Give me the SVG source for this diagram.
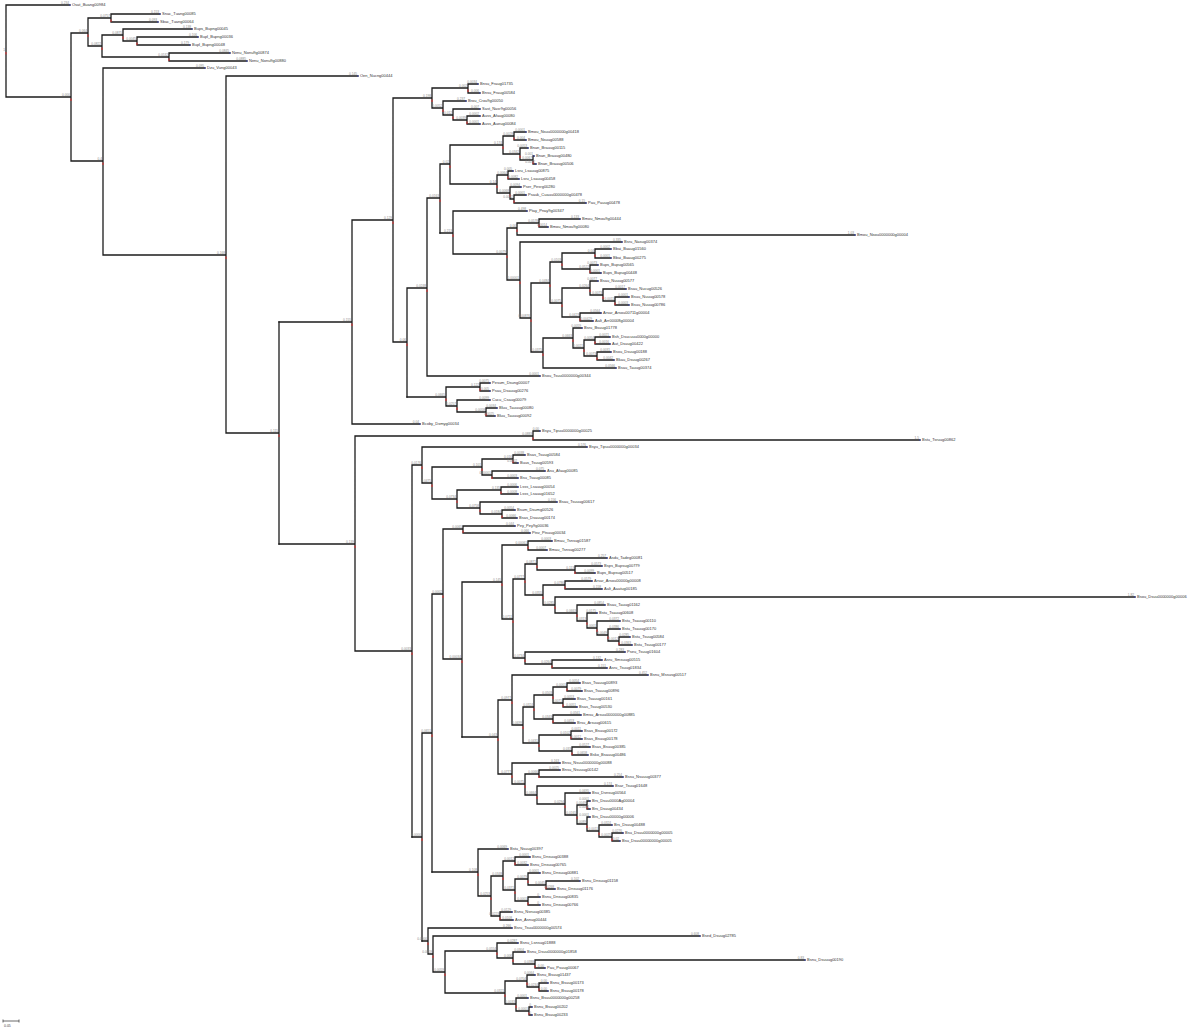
<svg xmlns="http://www.w3.org/2000/svg" width="1200" height="1032" viewBox="0 0 1200 1032">
<style>
.lf text{font-family:"Liberation Sans",Arial,sans-serif;font-size:4px;fill:#333}
.lf circle{fill:#3344cc;r:0.7px}
text.b{font-size:3.2px;fill:#888;text-anchor:end}
.in text{font-family:"Liberation Sans",Arial,sans-serif;font-size:3.2px;fill:#888;text-anchor:end}
.in rect{fill:#e03030}
</style>
<rect width="1200" height="1032" fill="#fff"/>
<g id="connectors" fill="none" stroke="#1c1c1c" stroke-width="1.3" stroke-linecap="square">
<path d="M6 5V97M6 5H70M6 97H71M71 33V161M71 33H88M88 18V46M88 18H111M111 14V22M111 14H160M111 22H158M88 46H102M102 35V57M102 35H123M123 29V41M123 29H192M123 41H137M137 37V45M137 37H198M137 45H190M102 57H169M169 53V61M169 53H230M169 61H247M71 161H103M103 68V255M103 68H205M103 255H226M226 76V433M226 76H358M226 433H279M279 322V544"/>
<path d="M279 322H352M352 220V424M352 424H420M352 220H393M393 98V342M393 98H432M432 88V108M432 88H468M468 84V93M468 84H478M468 93H480M432 108H443M443 101V115M443 101H466M443 115H453M453 109V120M453 109H480M453 120H467M467 116V124M467 116H480M467 124H480M393 342H407M407 288V397M407 288H427M427 198V376M427 376H540M427 198H440M440 164V233M440 164H450M450 145V184M450 145H503M503 136V154M503 136H514M514 132V140M514 132H526M514 140H526M503 154H520M520 148V160M520 148H528M520 160H533M533 156V164M533 156H534M533 164H536M450 184H497M497 175V193M497 175H508M508 171V179M508 171H513M508 179H519M497 193H510M510 187V199M510 187H521M510 199H514M514 195V203M514 195H526M514 203H586"/>
<path d="M440 233H453M453 211V254M453 211H527M453 254H507M507 228V280M507 228H517M517 223V235M517 235H855M517 223H539M539 219V227M539 219H580M539 227H548M507 280H520M520 242V318M520 242H622M520 318H531M531 283V352M531 283H550M550 262V303M550 262H562M562 253V269M562 253H595M595 249V258M595 249H611M595 258H611M562 269H590M590 265V273M590 265H598M590 273H601M550 303H562M562 288V317M562 288H590M590 281V295M590 281H598M590 295H603M603 289V301M603 289H626M603 301H615M615 297V305M615 297H629M615 305H629M562 317H580M580 313V321M580 313H601M580 321H593M531 352H543M543 338V368M543 368H616M543 338H573M573 328V348M573 328H582M573 348H584M584 340V356M584 340H595M595 337V344M595 337H610M595 344H610M584 356H597M597 352V360M597 352H611M597 360H614M407 397H446M446 387V406M446 387H480M480 383V391M480 383H490M480 391H490M446 406H457M457 400V412M457 400H490M457 412H486M486 408V416M486 408H497M486 416H495"/>
<path d="M279 544H355M355 436V651M355 436H533M533 431V440M533 431H540M533 440H920M355 651H412M412 465V837M412 465H422M422 447V483M422 447H587M422 483H432M432 467V499M432 467H482M482 459V475M482 459H513M513 455V463M513 455H525M513 463H518M482 475H492M492 471V478M492 471H545M492 478H518M432 499H457M457 490V508M457 490H501M501 487V494M501 487H518M501 494H518M457 508H480M480 502V514M480 502H557M480 514H502M502 510V518M502 510H515M502 518H517"/>
<path d="M412 837H422M422 733V941M422 733H432M432 594V872M432 594H443M443 529V659M443 529H463M463 526V533M463 526H515M463 533H530M443 659H462M462 582V737M462 582H502M502 545V619M502 545H528M528 541V550M528 541H552M528 550H547M502 619H513M513 579V658M513 579H525M525 564V595M525 564H537M537 558V570M537 558H607M537 570H575M575 566V573M575 566H602M575 573H595M525 595H543M543 585V605M543 585H565M565 581V589M565 581H592M565 589H602M543 605H555M555 597V613M555 597H1135M555 613H577M577 605V621M577 605H605M577 621H587M587 613V628M587 613H597M587 628H597M597 621V635M597 621H620M597 635H608M608 629V641M608 629H620M608 641H619M619 637V645M619 637H630M619 645H632M513 658H525M525 652V664M525 652H625M525 664H552M552 660V668M552 660H602M552 668H607"/>
<path d="M462 737H498M498 700V774M498 700H512M512 675V725M512 675H648M512 725H523M523 707V743M523 707H534M534 695V719M534 695H553M553 687V703M553 687H567M567 683V691M567 683H580M567 691H582M553 703H563M563 699V707M563 699H575M563 707H577M534 719H553M553 715V723M553 715H581M553 723H575M523 743H539M539 735V751M539 735H571M571 731V739M571 731H582M571 739H582M539 751H572M572 747V755M572 747H590M572 755H588M498 774H512M512 763V784M512 763H560M512 784H525M525 774V795M525 774H539M539 770V777M539 770H560M539 777H623M525 795H537M537 786V804M537 786H613M537 804H565M565 793V815M565 793H590M565 815H577M577 805V824M577 805H587M587 801V809M587 801H590M587 809H590M577 824H587M587 817V831M587 817H590M587 831H599M599 825V837M599 825H612M599 837H612M612 833V841M612 833H623M612 841H620"/>
<path d="M432 872H478M478 849V896M478 849H508M478 896H491M491 876V916M491 876H503M503 861V890M503 861H515M515 857V865M515 857H530M515 865H528M503 890H515M515 879V901M515 879H528M528 873V885M528 873H540M528 885H546M546 881V889M546 881H580M546 889H555M515 901H528M528 897V905M528 897H540M528 905H540M491 916H500M500 912V920M500 912H512M500 920H513M422 941H428M428 928V954M428 928H512M428 954H433M433 936V972M433 936H700M433 972H445M445 951V993M445 951H497M497 943V958M497 943H518M497 958H513M513 952V964M513 952H525M513 964H535M535 960V968M535 960H805M535 968H545M445 993H505M505 981V1004M505 981H527M527 975V987M527 975H535M527 987H539M539 983V991M539 983H548M539 991H548M505 1004H516M516 998V1011M516 998H528M516 1011H529M529 1007V1015M529 1007H532M529 1015H532"/>
</g>
<g class="in">
<g id="nR"><rect x="5.5" y="52" width="1" height="2.5"/><text x="5" y="51">1</text></g>
<g id="n71"><rect x="70.5" y="98.5" width="1" height="2.5"/><text x="70" y="96">0.000</text></g>
<g id="n88"><rect x="87.5" y="34.5" width="1" height="2.5"/><text x="87" y="32">0.064</text></g>
<g id="n111"><rect x="110.5" y="19.5" width="1" height="2.5"/><text x="110" y="17">0.0757</text></g>
<g id="n102"><rect x="101.5" y="47.5" width="1" height="2.5"/><text x="101" y="45">0.0822</text></g>
<g id="n123"><rect x="122.5" y="36.5" width="1" height="2.5"/><text x="122" y="34">0.0875</text></g>
<g id="n137"><rect x="136.5" y="42.5" width="1" height="2.5"/><text x="136" y="40">0.0045</text></g>
<g id="n169"><rect x="168.5" y="58.5" width="1" height="2.5"/><text x="168" y="56">0.0532</text></g>
<g id="n103"><rect x="102.5" y="162.5" width="1" height="2.5"/><text x="102" y="160">0.4</text></g>
<g id="n226"><rect x="225.5" y="256.5" width="1" height="2.5"/><text x="225" y="254">0.168</text></g>
<g id="n279"><rect x="278.5" y="434.5" width="1" height="2.5"/><text x="278" y="432">0.115</text></g>
<g id="n352"><rect x="351.5" y="323.5" width="1" height="2.5"/><text x="351" y="321">0.155</text></g>
<g id="n393"><rect x="392.5" y="221.5" width="1" height="2.5"/><text x="392" y="219">0.129</text></g>
<g id="n432"><rect x="431.5" y="99.5" width="1" height="2.5"/><text x="431" y="97">0.198</text></g>
<g id="n468"><rect x="467.5" y="89.5" width="1" height="2.5"/><text x="467" y="87">0.002</text></g>
<g id="n443"><rect x="442.5" y="109.5" width="1" height="2.5"/><text x="442" y="107">0.0052</text></g>
<g id="n453"><rect x="452.5" y="116.5" width="1" height="2.5"/><text x="452" y="114">0.012</text></g>
<g id="n467"><rect x="466.5" y="121.5" width="1" height="2.5"/><text x="466" y="119">0.0039</text></g>
<g id="n407"><rect x="406.5" y="343.5" width="1" height="2.5"/><text x="406" y="341">0.06</text></g>
<g id="n427"><rect x="426.5" y="289.5" width="1" height="2.5"/><text x="426" y="287">0.0248</text></g>
<g id="n440"><rect x="439.5" y="199.5" width="1" height="2.5"/><text x="439" y="197">0.0163</text></g>
<g id="n450"><rect x="449.5" y="165.5" width="1" height="2.5"/><text x="449" y="163">0.02</text></g>
<g id="n503"><rect x="502.5" y="146.5" width="1" height="2.5"/><text x="502" y="144">0.174</text></g>
<g id="n514"><rect x="513.5" y="137.5" width="1" height="2.5"/><text x="513" y="135">0.0028</text></g>
<g id="n520"><rect x="519.5" y="155.5" width="1" height="2.5"/><text x="519" y="153">0.0342</text></g>
<g id="n533"><rect x="532.5" y="161.5" width="1" height="2.5"/><text x="532" y="159">0.0067</text></g>
<g id="n497"><rect x="496.5" y="185.5" width="1" height="2.5"/><text x="496" y="183">0.14</text></g>
<g id="n508"><rect x="507.5" y="176.5" width="1" height="2.5"/><text x="507" y="174">0.0064</text></g>
<g id="n510"><rect x="509.5" y="194.5" width="1" height="2.5"/><text x="509" y="192">0.0068</text></g>
<g id="n514b"><rect x="513.5" y="200.5" width="1" height="2.5"/><text x="513" y="198">0.0092</text></g>
<g id="n453b"><rect x="452.5" y="234.5" width="1" height="2.5"/><text x="452" y="232">0.213</text></g>
<g id="n507"><rect x="506.5" y="255.5" width="1" height="2.5"/><text x="506" y="253">0.0079</text></g>
<g id="n517"><rect x="516.5" y="229.5" width="1" height="2.5"/><text x="516" y="227">0.00</text></g>
<g id="n539"><rect x="538.5" y="224.5" width="1" height="2.5"/><text x="538" y="222">0.0578</text></g>
<g id="n520b"><rect x="519.5" y="281.5" width="1" height="2.5"/><text x="519" y="279">0.00001</text></g>
<g id="n531"><rect x="530.5" y="319.5" width="1" height="2.5"/><text x="530" y="317">0.00876</text></g>
<g id="n550"><rect x="549.5" y="284.5" width="1" height="2.5"/><text x="549" y="282">0.0484</text></g>
<g id="n562a"><rect x="561.5" y="263.5" width="1" height="2.5"/><text x="561" y="261">0.0103</text></g>
<g id="n595"><rect x="594.5" y="254.5" width="1" height="2.5"/><text x="594" y="252">0.04</text></g>
<g id="n590"><rect x="589.5" y="270.5" width="1" height="2.5"/><text x="589" y="268">0.0522</text></g>
<g id="n562b"><rect x="561.5" y="304.5" width="1" height="2.5"/><text x="561" y="302">0.0075</text></g>
<g id="n590b"><rect x="589.5" y="289.5" width="1" height="2.5"/><text x="589" y="287">0.0264</text></g>
<g id="n603"><rect x="602.5" y="296.5" width="1" height="2.5"/><text x="602" y="294">0.0073</text></g>
<g id="n615"><rect x="614.5" y="302.5" width="1" height="2.5"/><text x="614" y="300">0.0011</text></g>
<g id="n580"><rect x="579.5" y="318.5" width="1" height="2.5"/><text x="579" y="316">0.0423</text></g>
<g id="n543"><rect x="542.5" y="353.5" width="1" height="2.5"/><text x="542" y="351">0.0375</text></g>
<g id="n573"><rect x="572.5" y="339.5" width="1" height="2.5"/><text x="572" y="337">0.0663</text></g>
<g id="n584"><rect x="583.5" y="349.5" width="1" height="2.5"/><text x="583" y="347">0.0021</text></g>
<g id="n595b"><rect x="594.5" y="341.5" width="1" height="2.5"/><text x="594" y="339">0.0054</text></g>
<g id="n597"><rect x="596.5" y="357.5" width="1" height="2.5"/><text x="596" y="355">0.0073</text></g>
<g id="n446"><rect x="445.5" y="398.5" width="1" height="2.5"/><text x="445" y="396">0.0665</text></g>
<g id="n480"><rect x="479.5" y="388.5" width="1" height="2.5"/><text x="479" y="386">0.122</text></g>
<g id="n457"><rect x="456.5" y="407.5" width="1" height="2.5"/><text x="456" y="405">0.0257</text></g>
<g id="n486"><rect x="485.5" y="413.5" width="1" height="2.5"/><text x="485" y="411">0.0058</text></g>
<g id="n355"><rect x="354.5" y="545.5" width="1" height="2.5"/><text x="354" y="543">0.139</text></g>
<g id="n533c"><rect x="532.5" y="437.5" width="1" height="2.5"/><text x="532" y="435">0.0883</text></g>
<g id="n412"><rect x="411.5" y="652.5" width="1" height="2.5"/><text x="411" y="650">0.0033</text></g>
<g id="n422"><rect x="421.5" y="466.5" width="1" height="2.5"/><text x="421" y="464">0.0176</text></g>
<g id="n432u"><rect x="431.5" y="484.5" width="1" height="2.5"/><text x="431" y="482">0.0475</text></g>
<g id="n482"><rect x="481.5" y="468.5" width="1" height="2.5"/><text x="481" y="466">0.101</text></g>
<g id="n513"><rect x="512.5" y="460.5" width="1" height="2.5"/><text x="512" y="458">0.016</text></g>
<g id="n492"><rect x="491.5" y="476.5" width="1" height="2.5"/><text x="491" y="474">0.00001</text></g>
<g id="n457u"><rect x="456.5" y="500.5" width="1" height="2.5"/><text x="456" y="498">0.0734</text></g>
<g id="n501"><rect x="500.5" y="491.5" width="1" height="2.5"/><text x="500" y="489">0.135</text></g>
<g id="n480u"><rect x="479.5" y="509.5" width="1" height="2.5"/><text x="479" y="507">0.0758</text></g>
<g id="n502"><rect x="501.5" y="515.5" width="1" height="2.5"/><text x="501" y="513">0.0184</text></g>
<g id="n422b"><rect x="421.5" y="838.5" width="1" height="2.5"/><text x="421" y="836">0.0000</text></g>
<g id="n432m"><rect x="431.5" y="734.5" width="1" height="2.5"/><text x="431" y="732">0.0651</text></g>
<g id="n443m"><rect x="442.5" y="595.5" width="1" height="2.5"/><text x="442" y="593">0.0002</text></g>
<g id="n463"><rect x="462.5" y="530.5" width="1" height="2.5"/><text x="462" y="528">0.0065</text></g>
<g id="n462"><rect x="461.5" y="660.5" width="1" height="2.5"/><text x="461" y="658">0.00034</text></g>
<g id="n502m"><rect x="501.5" y="583.5" width="1" height="2.5"/><text x="501" y="581">0.145</text></g>
<g id="n528"><rect x="527.5" y="546.5" width="1" height="2.5"/><text x="527" y="544">0.00061</text></g>
<g id="n513m"><rect x="512.5" y="620.5" width="1" height="2.5"/><text x="512" y="618">0.0711</text></g>
<g id="n525"><rect x="524.5" y="580.5" width="1" height="2.5"/><text x="524" y="578">0.0777</text></g>
<g id="n537"><rect x="536.5" y="565.5" width="1" height="2.5"/><text x="536" y="563">0.0871</text></g>
<g id="n575"><rect x="574.5" y="571.5" width="1" height="2.5"/><text x="574" y="569">0.113</text></g>
<g id="n543m"><rect x="542.5" y="596.5" width="1" height="2.5"/><text x="542" y="594">0.0355</text></g>
<g id="n565"><rect x="564.5" y="586.5" width="1" height="2.5"/><text x="564" y="584">0.0786</text></g>
<g id="n555"><rect x="554.5" y="606.5" width="1" height="2.5"/><text x="554" y="604">0.0285</text></g>
<g id="n577"><rect x="576.5" y="614.5" width="1" height="2.5"/><text x="576" y="612">0.0663</text></g>
<g id="n587"><rect x="586.5" y="622.5" width="1" height="2.5"/><text x="586" y="620">0.0313</text></g>
<g id="n597m"><rect x="596.5" y="629.5" width="1" height="2.5"/><text x="596" y="627">0.0001</text></g>
<g id="n608"><rect x="607.5" y="636.5" width="1" height="2.5"/><text x="607" y="634">0.0049</text></g>
<g id="n619"><rect x="618.5" y="642.5" width="1" height="2.5"/><text x="618" y="640">0.0012</text></g>
<g id="n525b"><rect x="524.5" y="659.5" width="1" height="2.5"/><text x="524" y="657">0.0734</text></g>
<g id="n552"><rect x="551.5" y="665.5" width="1" height="2.5"/><text x="551" y="663">0.0264</text></g>
<g id="n498"><rect x="497.5" y="738.5" width="1" height="2.5"/><text x="497" y="736">0.043</text></g>
<g id="n512"><rect x="511.5" y="701.5" width="1" height="2.5"/><text x="511" y="699">0.0977</text></g>
<g id="n523"><rect x="522.5" y="726.5" width="1" height="2.5"/><text x="522" y="724">0.0699</text></g>
<g id="n534"><rect x="533.5" y="708.5" width="1" height="2.5"/><text x="533" y="706">0.0324</text></g>
<g id="n553"><rect x="552.5" y="696.5" width="1" height="2.5"/><text x="552" y="694">0.0503</text></g>
<g id="n567"><rect x="566.5" y="688.5" width="1" height="2.5"/><text x="566" y="686">0.0001</text></g>
<g id="n563"><rect x="562.5" y="704.5" width="1" height="2.5"/><text x="562" y="702">0.0071</text></g>
<g id="n553b"><rect x="552.5" y="720.5" width="1" height="2.5"/><text x="552" y="718">0.0343</text></g>
<g id="n539m"><rect x="538.5" y="744.5" width="1" height="2.5"/><text x="538" y="742">0.0431</text></g>
<g id="n571"><rect x="570.5" y="736.5" width="1" height="2.5"/><text x="570" y="734">0.0102</text></g>
<g id="n572"><rect x="571.5" y="752.5" width="1" height="2.5"/><text x="571" y="750">0.033</text></g>
<g id="n512b"><rect x="511.5" y="775.5" width="1" height="2.5"/><text x="511" y="773">0.0777</text></g>
<g id="n525m"><rect x="524.5" y="785.5" width="1" height="2.5"/><text x="524" y="783">0.0075</text></g>
<g id="n539b"><rect x="538.5" y="775.5" width="1" height="2.5"/><text x="538" y="773">0.0066</text></g>
<g id="n537b"><rect x="536.5" y="796.5" width="1" height="2.5"/><text x="536" y="794">0.0664</text></g>
<g id="n565b"><rect x="564.5" y="805.5" width="1" height="2.5"/><text x="564" y="803">0.0294</text></g>
<g id="n577b"><rect x="576.5" y="816.5" width="1" height="2.5"/><text x="576" y="814">0.0165</text></g>
<g id="n587b"><rect x="586.5" y="806.5" width="1" height="2.5"/><text x="586" y="804">0.0049</text></g>
<g id="n587c"><rect x="586.5" y="825.5" width="1" height="2.5"/><text x="586" y="823">0.0089</text></g>
<g id="n599"><rect x="598.5" y="832.5" width="1" height="2.5"/><text x="598" y="830">0.0011</text></g>
<g id="n612"><rect x="611.5" y="838.5" width="1" height="2.5"/><text x="611" y="836">0.0025</text></g>
<g id="n478"><rect x="477.5" y="873.5" width="1" height="2.5"/><text x="477" y="871">0.108</text></g>
<g id="n491"><rect x="490.5" y="897.5" width="1" height="2.5"/><text x="490" y="895">0.0253</text></g>
<g id="n503b"><rect x="502.5" y="877.5" width="1" height="2.5"/><text x="502" y="875">0.0348</text></g>
<g id="n515"><rect x="514.5" y="862.5" width="1" height="2.5"/><text x="514" y="860">0.0012</text></g>
<g id="n515b"><rect x="514.5" y="891.5" width="1" height="2.5"/><text x="514" y="889">0.0371</text></g>
<g id="n528b"><rect x="527.5" y="880.5" width="1" height="2.5"/><text x="527" y="878">0.0079</text></g>
<g id="n546"><rect x="545.5" y="886.5" width="1" height="2.5"/><text x="545" y="884">0.0045</text></g>
<g id="n528c"><rect x="527.5" y="902.5" width="1" height="2.5"/><text x="527" y="900">0.0001</text></g>
<g id="n500"><rect x="499.5" y="917.5" width="1" height="2.5"/><text x="499" y="915">0.0223</text></g>
<g id="n428"><rect x="427.5" y="942.5" width="1" height="2.5"/><text x="427" y="940">0.0000</text></g>
<g id="n433"><rect x="432.5" y="955.5" width="1" height="2.5"/><text x="432" y="953">0.0659</text></g>
<g id="n445"><rect x="444.5" y="973.5" width="1" height="2.5"/><text x="444" y="971">0.0059</text></g>
<g id="n497b"><rect x="496.5" y="952.5" width="1" height="2.5"/><text x="496" y="950">0.0554</text></g>
<g id="n513b"><rect x="512.5" y="959.5" width="1" height="2.5"/><text x="512" y="957">0.006</text></g>
<g id="n535"><rect x="534.5" y="965.5" width="1" height="2.5"/><text x="534" y="963">0.0388</text></g>
<g id="n505"><rect x="504.5" y="994.5" width="1" height="2.5"/><text x="504" y="992">0.0321</text></g>
<g id="n527"><rect x="526.5" y="982.5" width="1" height="2.5"/><text x="526" y="980">0.0704</text></g>
<g id="n539c"><rect x="538.5" y="988.5" width="1" height="2.5"/><text x="538" y="986">0.0234</text></g>
<g id="n516"><rect x="515.5" y="1005.5" width="1" height="2.5"/><text x="515" y="1003">0.0033</text></g>
<g id="n529"><rect x="528.5" y="1012.5" width="1" height="2.5"/><text x="528" y="1010">0.0001</text></g>
</g>
<g class="lf">
<g id="L1"><circle cx="70" cy="5" r=".7"/><text x="72" y="6.4">Osat_Buang00984</text><text class="b" x="69" y="4">0.234</text></g>
<g id="L2"><circle cx="160" cy="14" r=".7"/><text x="162" y="15.4">Snac_Tuang00085</text><text class="b" x="159" y="13">0.153</text></g>
<g id="L3"><circle cx="158" cy="22" r=".7"/><text x="160" y="23.4">Sbac_Tuang00064</text><text class="b" x="157" y="21">0.093</text></g>
<g id="L4"><circle cx="192" cy="29" r=".7"/><text x="194" y="30.4">Bups_Bupng00045</text><text class="b" x="191" y="28">0.138</text></g>
<g id="L5"><circle cx="198" cy="37" r=".7"/><text x="200" y="38.4">Bupl_Bupng00036</text><text class="b" x="197" y="36">0.106</text></g>
<g id="L6"><circle cx="190" cy="45" r=".7"/><text x="192" y="46.4">Bupl_Bupng00048</text><text class="b" x="189" y="44">0.179</text></g>
<g id="L7"><circle cx="230" cy="53" r=".7"/><text x="232" y="54.4">Nenu_Nonu9g00874</text><text class="b" x="229" y="52">0.0845</text></g>
<g id="L8"><circle cx="247" cy="61" r=".7"/><text x="249" y="62.4">Nenu_Nonu9g00880</text><text class="b" x="246" y="60">0.0885</text></g>
<g id="L9"><circle cx="205" cy="68" r=".7"/><text x="207" y="69.4">Dzu_Vung00043</text><text class="b" x="204" y="67">0.095</text></g>
<g id="L10"><circle cx="358" cy="76" r=".7"/><text x="360" y="77.4">Oen_Nucng00444</text><text class="b" x="357" y="75">0.145</text></g>
<g id="L11"><circle cx="478" cy="84" r=".7"/><text x="480" y="85.4">Bnsu_Fraug01735</text><text class="b" x="477" y="83">0.0034</text></g>
<g id="L12"><circle cx="480" cy="93" r=".7"/><text x="482" y="94.4">Bnsu_Fraug00584</text><text class="b" x="479" y="92">0.006</text></g>
<g id="L13"><circle cx="466" cy="101" r=".7"/><text x="468" y="102.4">Brou_Crou9g00050</text><text class="b" x="465" y="100">0.237</text></g>
<g id="L14"><circle cx="480" cy="109" r=".7"/><text x="482" y="110.4">Sast_Nasr9g00056</text><text class="b" x="479" y="108">0.007</text></g>
<g id="L15"><circle cx="480" cy="116" r=".7"/><text x="482" y="117.4">Auss_Afaug00080</text><text class="b" x="479" y="115">0.0002</text></g>
<g id="L16"><circle cx="480" cy="124" r=".7"/><text x="482" y="125.4">Auss_Aueug00084</text><text class="b" x="479" y="123">0.0001</text></g>
<g id="L17"><circle cx="526" cy="132" r=".7"/><text x="528" y="133.4">Bmou_Nsuu0000000g00418</text><text class="b" x="525" y="131">0.0001</text></g>
<g id="L18"><circle cx="526" cy="140" r=".7"/><text x="528" y="141.4">Bmou_Nsuug00588</text><text class="b" x="525" y="139">0.004</text></g>
<g id="L19"><circle cx="528" cy="148" r=".7"/><text x="530" y="149.4">Bnan_Brauug00115</text><text class="b" x="527" y="147">0.0053</text></g>
<g id="L20"><circle cx="534" cy="156" r=".7"/><text x="536" y="157.4">Bnan_Brauug00480</text><text class="b" x="533" y="155">0.001</text></g>
<g id="L21"><circle cx="536" cy="164" r=".7"/><text x="538" y="165.4">Bnan_Brauug00506</text><text class="b" x="535" y="163">0.0072</text></g>
<g id="L22"><circle cx="513" cy="171" r=".7"/><text x="515" y="172.4">Lsru_Lsauug00875</text><text class="b" x="512" y="170">0.005</text></g>
<g id="L23"><circle cx="519" cy="179" r=".7"/><text x="521" y="180.4">Lsru_Lsauug00458</text><text class="b" x="518" y="178">0.0082</text></g>
<g id="L24"><circle cx="521" cy="187" r=".7"/><text x="523" y="188.4">Pser_Pesrg00280</text><text class="b" x="520" y="186">0.0094</text></g>
<g id="L25"><circle cx="526" cy="195" r=".7"/><text x="528" y="196.4">Psauk_Cuauu0000000g00478</text><text class="b" x="525" y="194">0.0001</text></g>
<g id="L26"><circle cx="586" cy="203" r=".7"/><text x="588" y="204.4">Pau_Pauug00478</text><text class="b" x="585" y="202">0.15</text></g>
<g id="L27"><circle cx="527" cy="211" r=".7"/><text x="529" y="212.4">Ptay_Pnay9g00347</text><text class="b" x="526" y="210">0.498</text></g>
<g id="L28"><circle cx="580" cy="219" r=".7"/><text x="582" y="220.4">Bmou_Nmou9g00444</text><text class="b" x="579" y="218">0.133</text></g>
<g id="L29"><circle cx="548" cy="227" r=".7"/><text x="550" y="228.4">Bmou_Nmou9g00080</text><text class="b" x="547" y="226">0.0014</text></g>
<g id="L30"><circle cx="855" cy="235" r=".7"/><text x="857" y="236.4">Bmou_Nsou0000000g00004</text><text class="b" x="854" y="234">1.03</text></g>
<g id="L31"><circle cx="622" cy="242" r=".7"/><text x="624" y="243.4">Bsru_Nasug00374</text><text class="b" x="621" y="241">0.335</text></g>
<g id="L32"><circle cx="611" cy="249" r=".7"/><text x="613" y="250.4">Bbai_Baaug01560</text><text class="b" x="610" y="248">0.0002</text></g>
<g id="L33"><circle cx="611" cy="258" r=".7"/><text x="613" y="259.4">Bbai_Baaug00275</text><text class="b" x="610" y="257">0.0001</text></g>
<g id="L34"><circle cx="598" cy="265" r=".7"/><text x="600" y="266.4">Bups_Bupug00565</text><text class="b" x="597" y="264">0.0073</text></g>
<g id="L35"><circle cx="601" cy="273" r=".7"/><text x="603" y="274.4">Bups_Bupug00448</text><text class="b" x="600" y="272">0.0001</text></g>
<g id="L36"><circle cx="598" cy="281" r=".7"/><text x="600" y="282.4">Bsau_Nuuug00577</text><text class="b" x="597" y="280">0.0077</text></g>
<g id="L37"><circle cx="626" cy="289" r=".7"/><text x="628" y="290.4">Bsau_Nucug00526</text><text class="b" x="625" y="288">0.0017</text></g>
<g id="L38"><circle cx="629" cy="297" r=".7"/><text x="631" y="298.4">Bsuu_Nuuug00578</text><text class="b" x="628" y="296">0.0001</text></g>
<g id="L39"><circle cx="629" cy="305" r=".7"/><text x="631" y="306.4">Bsuu_Nuuug00786</text><text class="b" x="628" y="304">0.0003</text></g>
<g id="L40"><circle cx="601" cy="313" r=".7"/><text x="603" y="314.4">Arsar_Arsou00711g00004</text><text class="b" x="600" y="312">0.0564</text></g>
<g id="L41"><circle cx="593" cy="321" r=".7"/><text x="595" y="322.4">Aalt_Arr00008g00004</text><text class="b" x="592" y="320">0.00429</text></g>
<g id="L42"><circle cx="582" cy="328" r=".7"/><text x="584" y="329.4">Bsru_Bsuug01778</text><text class="b" x="581" y="327">0.0059</text></g>
<g id="L43"><circle cx="610" cy="337" r=".7"/><text x="612" y="338.4">Bsh_Dsucuuu0000g00000</text><text class="b" x="609" y="336">0.0021</text></g>
<g id="L44"><circle cx="610" cy="344" r=".7"/><text x="612" y="345.4">Aut_Dsuug00422</text><text class="b" x="609" y="343">0.0016</text></g>
<g id="L45"><circle cx="611" cy="352" r=".7"/><text x="613" y="353.4">Bsou_Dsuug00188</text><text class="b" x="610" y="351">0.0031</text></g>
<g id="L46"><circle cx="614" cy="360" r=".7"/><text x="616" y="361.4">Bkau_Dsuug00267</text><text class="b" x="613" y="359">0.0042</text></g>
<g id="L47"><circle cx="616" cy="368" r=".7"/><text x="618" y="369.4">Bsau_Tauug00374</text><text class="b" x="615" y="367">0.0566</text></g>
<g id="L48"><circle cx="540" cy="376" r=".7"/><text x="542" y="377.4">Bsou_Tsuu0000000g00344</text><text class="b" x="539" y="375">0.0001</text></g>
<g id="L49"><circle cx="490" cy="383" r=".7"/><text x="492" y="384.4">Pesum_Dsung00007</text><text class="b" x="489" y="382">0.0075</text></g>
<g id="L50"><circle cx="490" cy="391" r=".7"/><text x="492" y="392.4">Psau_Dsauug00276</text><text class="b" x="489" y="390">0.005</text></g>
<g id="L51"><circle cx="490" cy="400" r=".7"/><text x="492" y="401.4">Cucu_Csaug00079</text><text class="b" x="489" y="399">0.0099</text></g>
<g id="L52"><circle cx="497" cy="408" r=".7"/><text x="499" y="409.4">Bluu_Tauuug00080</text><text class="b" x="496" y="407">0.0034</text></g>
<g id="L53"><circle cx="495" cy="416" r=".7"/><text x="497" y="417.4">Bluu_Tauuug00092</text><text class="b" x="494" y="415">0.0025</text></g>
<g id="L54"><circle cx="420" cy="424" r=".7"/><text x="422" y="425.4">Bcoby_Dxmyg00034</text><text class="b" x="419" y="423">0.04</text></g>
<g id="L55"><circle cx="540" cy="431" r=".7"/><text x="542" y="432.4">Bsyu_Tipuu0000000g00025</text><text class="b" x="539" y="430">0.00</text></g>
<g id="L56"><circle cx="920" cy="440" r=".7"/><text x="922" y="441.4">Bstu_Tsruug00862</text><text class="b" x="919" y="439">1.5</text></g>
<g id="L57"><circle cx="587" cy="447" r=".7"/><text x="589" y="448.4">Bsyu_Tipuu0000000g00034</text><text class="b" x="586" y="446">0.576</text></g>
<g id="L58"><circle cx="525" cy="455" r=".7"/><text x="527" y="456.4">Bsas_Tsuug00584</text><text class="b" x="524" y="454">0.0038</text></g>
<g id="L59"><circle cx="518" cy="463" r=".7"/><text x="520" y="464.4">Buus_Tsuug00593</text><text class="b" x="517" y="462">0.0002</text></g>
<g id="L60"><circle cx="545" cy="471" r=".7"/><text x="547" y="472.4">Asu_Afaug00085</text><text class="b" x="544" y="470">0.075</text></g>
<g id="L61"><circle cx="518" cy="478" r=".7"/><text x="520" y="479.4">Bsu_Tsaug00085</text><text class="b" x="517" y="477">0.0003</text></g>
<g id="L62"><circle cx="518" cy="487" r=".7"/><text x="520" y="488.4">Lsss_Lsauug00054</text><text class="b" x="517" y="486">0.0006</text></g>
<g id="L63"><circle cx="518" cy="494" r=".7"/><text x="520" y="495.4">Lsss_Lsauug01652</text><text class="b" x="517" y="493">0.0008</text></g>
<g id="L64"><circle cx="557" cy="502" r=".7"/><text x="559" y="503.4">Bsau_Tsuuug00617</text><text class="b" x="556" y="501">0.156</text></g>
<g id="L65"><circle cx="515" cy="510" r=".7"/><text x="517" y="511.4">Bsum_Dsumg00526</text><text class="b" x="514" y="509">0.0054</text></g>
<g id="L66"><circle cx="517" cy="518" r=".7"/><text x="519" y="519.4">Bsas_Dsauug00174</text><text class="b" x="516" y="517">0.0066</text></g>
<g id="L67"><circle cx="515" cy="526" r=".7"/><text x="517" y="527.4">Pey_Pey9g00036</text><text class="b" x="514" y="525">0.044</text></g>
<g id="L68"><circle cx="530" cy="533" r=".7"/><text x="532" y="534.4">Ptsv_Ptsuug00034</text><text class="b" x="529" y="532">0.066</text></g>
<g id="L69"><circle cx="552" cy="541" r=".7"/><text x="554" y="542.4">Bmau_Tsnsug01587</text><text class="b" x="551" y="540">0.0003</text></g>
<g id="L70"><circle cx="547" cy="550" r=".7"/><text x="549" y="551.4">Bmau_Tsnsug00277</text><text class="b" x="546" y="549">0.0007</text></g>
<g id="L71"><circle cx="607" cy="558" r=".7"/><text x="609" y="559.4">Asdu_Tadeg00081</text><text class="b" x="606" y="557">0.257</text></g>
<g id="L72"><circle cx="602" cy="566" r=".7"/><text x="604" y="567.4">Bsps_Bupsug00779</text><text class="b" x="601" y="565">0.0573</text></g>
<g id="L73"><circle cx="595" cy="573" r=".7"/><text x="597" y="574.4">Bups_Bupsug00517</text><text class="b" x="594" y="572">0.0099</text></g>
<g id="L74"><circle cx="592" cy="581" r=".7"/><text x="594" y="582.4">Arsar_Arsou00000g00008</text><text class="b" x="591" y="580">0.0579</text></g>
<g id="L75"><circle cx="602" cy="589" r=".7"/><text x="604" y="590.4">Aalt_Aaatug00185</text><text class="b" x="601" y="588">0.158</text></g>
<g id="L76"><circle cx="1135" cy="597" r=".7"/><text x="1137" y="598.4">Bsou_Dsuu0000000g00006</text><text class="b" x="1134" y="596">1.82</text></g>
<g id="L77"><circle cx="605" cy="605" r=".7"/><text x="607" y="606.4">Bsau_Tauug01162</text><text class="b" x="604" y="604">0.0854</text></g>
<g id="L78"><circle cx="597" cy="613" r=".7"/><text x="599" y="614.4">Bstu_Tsauug00608</text><text class="b" x="596" y="612">0.0175</text></g>
<g id="L79"><circle cx="620" cy="621" r=".7"/><text x="622" y="622.4">Bstu_Tsauug00110</text><text class="b" x="619" y="620">0.0372</text></g>
<g id="L80"><circle cx="620" cy="629" r=".7"/><text x="622" y="630.4">Bstu_Tsauug00170</text><text class="b" x="619" y="628">0.0386</text></g>
<g id="L81"><circle cx="630" cy="637" r=".7"/><text x="632" y="638.4">Bstu_Tsuug00584</text><text class="b" x="629" y="636">0.0285</text></g>
<g id="L82"><circle cx="632" cy="645" r=".7"/><text x="634" y="646.4">Bstu_Tsuug00177</text><text class="b" x="631" y="644">0.0363</text></g>
<g id="L83"><circle cx="625" cy="652" r=".7"/><text x="627" y="653.4">Pseu_Tsuug01604</text><text class="b" x="624" y="651">0.283</text></g>
<g id="L84"><circle cx="602" cy="660" r=".7"/><text x="604" y="661.4">Asru_Smsuug00515</text><text class="b" x="601" y="659">0.132</text></g>
<g id="L85"><circle cx="607" cy="668" r=".7"/><text x="609" y="669.4">Asru_Tsuug01834</text><text class="b" x="606" y="667">0.151</text></g>
<g id="L86"><circle cx="648" cy="675" r=".7"/><text x="650" y="676.4">Bsnu_Mssusg00517</text><text class="b" x="647" y="674">0.452</text></g>
<g id="L87"><circle cx="580" cy="683" r=".7"/><text x="582" y="684.4">Bsas_Tsauug00893</text><text class="b" x="579" y="682">0.0054</text></g>
<g id="L88"><circle cx="582" cy="691" r=".7"/><text x="584" y="692.4">Bsas_Tsauug00896</text><text class="b" x="581" y="690">0.0079</text></g>
<g id="L89"><circle cx="575" cy="699" r=".7"/><text x="577" y="700.4">Bsas_Tsauug00161</text><text class="b" x="574" y="698">0.0053</text></g>
<g id="L90"><circle cx="577" cy="707" r=".7"/><text x="579" y="708.4">Bsas_Tsuug00530</text><text class="b" x="576" y="706">0.0051</text></g>
<g id="L91"><circle cx="581" cy="715" r=".7"/><text x="583" y="716.4">Bmsu_Arsuu0000000g00885</text><text class="b" x="580" y="714">0.0561</text></g>
<g id="L92"><circle cx="575" cy="723" r=".7"/><text x="577" y="724.4">Brsu_Arsuug00615</text><text class="b" x="574" y="722">0.0453</text></g>
<g id="L93"><circle cx="582" cy="731" r=".7"/><text x="584" y="732.4">Bsas_Bsuug00172</text><text class="b" x="581" y="730">0.0011</text></g>
<g id="L94"><circle cx="582" cy="739" r=".7"/><text x="584" y="740.4">Bsas_Bsuug00178</text><text class="b" x="581" y="738">0.0012</text></g>
<g id="L95"><circle cx="590" cy="747" r=".7"/><text x="592" y="748.4">Bsas_Bsuug00385</text><text class="b" x="589" y="746">0.0527</text></g>
<g id="L96"><circle cx="588" cy="755" r=".7"/><text x="590" y="756.4">Bsko_Bsauug00486</text><text class="b" x="587" y="754">0.0658</text></g>
<g id="L97"><circle cx="560" cy="763" r=".7"/><text x="562" y="764.4">Bnsu_Nsuu0000000g00088</text><text class="b" x="559" y="762">0.163</text></g>
<g id="L98"><circle cx="560" cy="770" r=".7"/><text x="562" y="771.4">Bnsu_Nsuuug00142</text><text class="b" x="559" y="769">0.0025</text></g>
<g id="L99"><circle cx="623" cy="777" r=".7"/><text x="625" y="778.4">Bssu_Nsuuug00377</text><text class="b" x="622" y="776">0.254</text></g>
<g id="L100"><circle cx="613" cy="786" r=".7"/><text x="615" y="787.4">Bsar_Tsuug01648</text><text class="b" x="612" y="785">0.174</text></g>
<g id="L101"><circle cx="590" cy="793" r=".7"/><text x="592" y="794.4">Bsu_Dsnsug00564</text><text class="b" x="589" y="792">0.0695</text></g>
<g id="L102"><circle cx="590" cy="801" r=".7"/><text x="592" y="802.4">Brs_Dsuu0000Ag00004</text><text class="b" x="589" y="800">0.0001</text></g>
<g id="L103"><circle cx="590" cy="809" r=".7"/><text x="592" y="810.4">Brs_Dsuug00434</text><text class="b" x="589" y="808">0.0001</text></g>
<g id="L104"><circle cx="590" cy="817" r=".7"/><text x="592" y="818.4">Brs_Dsuu00000g00006</text><text class="b" x="589" y="816">0.0001</text></g>
<g id="L105"><circle cx="612" cy="825" r=".7"/><text x="614" y="826.4">Brs_Dsuug00488</text><text class="b" x="611" y="824">0.0324</text></g>
<g id="L106"><circle cx="623" cy="833" r=".7"/><text x="625" y="834.4">Bsu_Dsuu0000000g00005</text><text class="b" x="622" y="832">0.0276</text></g>
<g id="L107"><circle cx="620" cy="841" r=".7"/><text x="622" y="842.4">Bsu_Dsuu00000000g00005</text><text class="b" x="619" y="840">0.02</text></g>
<g id="L108"><circle cx="508" cy="849" r=".7"/><text x="510" y="850.4">Bstu_Nsuug00397</text><text class="b" x="507" y="848">0.0069</text></g>
<g id="L109"><circle cx="530" cy="857" r=".7"/><text x="532" y="858.4">Bsnu_Dnsuug00388</text><text class="b" x="529" y="856">0.0001</text></g>
<g id="L110"><circle cx="528" cy="865" r=".7"/><text x="530" y="866.4">Bsnu_Dnsuug00765</text><text class="b" x="527" y="864">0.0032</text></g>
<g id="L111"><circle cx="540" cy="873" r=".7"/><text x="542" y="874.4">Bsnu_Dnsuug00881</text><text class="b" x="539" y="872">0.0001</text></g>
<g id="L112"><circle cx="580" cy="881" r=".7"/><text x="582" y="882.4">Bsnu_Dnsuug01158</text><text class="b" x="579" y="880">0.102</text></g>
<g id="L113"><circle cx="555" cy="889" r=".7"/><text x="557" y="890.4">Bsnu_Dnsuug01176</text><text class="b" x="554" y="888">0.0268</text></g>
<g id="L114"><circle cx="540" cy="897" r=".7"/><text x="542" y="898.4">Bsnu_Dnsuug00835</text><text class="b" x="539" y="896">0</text></g>
<g id="L115"><circle cx="540" cy="905" r=".7"/><text x="542" y="906.4">Bsnu_Dnsuug00766</text><text class="b" x="539" y="904">0</text></g>
<g id="L116"><circle cx="512" cy="912" r=".7"/><text x="514" y="913.4">Bsnu_Nsnuug00385</text><text class="b" x="511" y="911">0.0129</text></g>
<g id="L117"><circle cx="513" cy="920" r=".7"/><text x="515" y="921.4">Asn_Asnug00444</text><text class="b" x="512" y="919">0.0108</text></g>
<g id="L118"><circle cx="512" cy="928" r=".7"/><text x="514" y="929.4">Bsru_Tsuu0000000g00574</text><text class="b" x="511" y="927">0.266</text></g>
<g id="L119"><circle cx="700" cy="936" r=".7"/><text x="702" y="937.4">Bsed_Dsuug02785</text><text class="b" x="699" y="935">0.608</text></g>
<g id="L120"><circle cx="518" cy="943" r=".7"/><text x="520" y="944.4">Bsnu_Lsnsug01888</text><text class="b" x="517" y="942">0.0287</text></g>
<g id="L121"><circle cx="525" cy="952" r=".7"/><text x="527" y="953.4">Bsnu_Dsuu0000000g01858</text><text class="b" x="524" y="951">0.0304</text></g>
<g id="L122"><circle cx="805" cy="960" r=".7"/><text x="807" y="961.4">Bsnu_Dsuuug00190</text><text class="b" x="804" y="959">0.83</text></g>
<g id="L123"><circle cx="545" cy="968" r=".7"/><text x="547" y="969.4">Pau_Psuug00067</text><text class="b" x="544" y="967">0.00</text></g>
<g id="L124"><circle cx="535" cy="975" r=".7"/><text x="537" y="976.4">Bsnu_Bsuug01437</text><text class="b" x="534" y="974">0.0064</text></g>
<g id="L125"><circle cx="548" cy="983" r=".7"/><text x="550" y="984.4">Bsnu_Bsuug00173</text><text class="b" x="547" y="982">0.00</text></g>
<g id="L126"><circle cx="548" cy="991" r=".7"/><text x="550" y="992.4">Bsnu_Bsuug00178</text><text class="b" x="547" y="990">0.00</text></g>
<g id="L127"><circle cx="528" cy="998" r=".7"/><text x="530" y="999.4">Bsnu_Bsuu0000000g00258</text><text class="b" x="527" y="997">0.0001</text></g>
<g id="L128"><circle cx="532" cy="1007" r=".7"/><text x="534" y="1008.4">Bsnu_Bsuug00202</text><text class="b" x="531" y="1006">0</text></g>
<g id="L129"><circle cx="532" cy="1015" r=".7"/><text x="534" y="1016.4">Bsnu_Bsuug00233</text><text class="b" x="531" y="1014">0</text></g>
</g>
<g id="scale">
<path d="M3 1021H19M3 1019.5V1022.5M19 1019.5V1022.5" stroke="#444" stroke-width="0.8" fill="none"/>
<text x="4" y="1027" font-family="Liberation Sans, Arial, sans-serif" font-size="3.5" fill="#444">0.05</text>
</g>
</svg>
